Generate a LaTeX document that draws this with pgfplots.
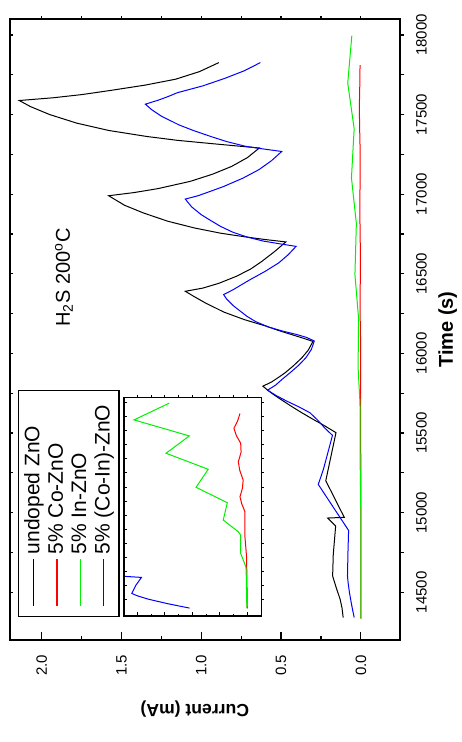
\documentclass[border=0pt]{standalone}
\usepackage{pgfplots}
\usepackage{pgfplotstable}
\pgfplotsset{compat=1.18}
\usepackage{fontspec}
\setmainfont{Liberation Sans}

% time (s) vs. current (mA)
\pgfplotstableread{
t c
14341 0.111
14400 0.118
14456 0.130
14530 0.155
14602 0.177
14738 0.173
14916 0.158
14966 0.208
14970 0.104
15200 0.220
15502 0.156
15550 0.235
15585 0.298
15630 0.375
15673 0.444
15710 0.500
15742 0.548
15770 0.585
15794 0.614
15820 0.560
15850 0.515
15878 0.475
15920 0.425
15972 0.370
16020 0.330
16075 0.300
16095 0.360
16120 0.440
16145 0.520
16170 0.590
16212 0.730
16260 0.860
16320 0.980
16360 1.050
16390 1.100
16410 0.990
16440 0.890
16484 0.780
16530 0.690
16578 0.620
16640 0.540
16700 0.470
16715 0.600
16731 0.720
16755 0.880
16787 1.040
16830 1.210
16881 1.360
16930 1.480
16990 1.580
17010 1.420
17035 1.270
17080 1.070
17125 0.930
17174 0.810
17230 0.710
17290 0.636
17303 0.780
17316 0.920
17338 1.150
17362 1.340
17400 1.580
17446 1.780
17500 1.950
17550 2.070
17588 2.140
17605 1.930
17625 1.750
17651 1.570
17685 1.350
17722 1.160
17770 1.010
17826 0.890
}\undoped

\pgfplotstableread{
t c
14334 0.0000
14900 0.0003
15255 0.0005
15612 0.0017
16058 0.0017
16200 0.0040
16326 0.0053
16480 0.0035
16624 0.0030
16800 0.0055
16951 0.0065
17120 0.0045
17280 0.0048
17420 0.0080
17548 0.0097
17680 0.0070
17810 0.0053
}\cozno

\pgfplotstableread{
t c
14334 0.0003
15000 0.0008
15077 0.0010
15316 0.0048
15643 0.0048
15702 0.0065
15911 0.0175
16220 0.0145
16495 0.0373
16816 0.0284
17102 0.0591
17411 0.0422
17697 0.0824
17995 0.0568
}\inzno

\pgfplotstableread{
t c
14341 0.042
14420 0.058
14500 0.072
14560 0.080
14602 0.084
14750 0.081
14888 0.077
15177 0.267
15271 0.235
15485 0.178
15530 0.225
15580 0.270
15627 0.319
15665 0.390
15700 0.464
15735 0.530
15769 0.585
15800 0.535
15840 0.490
15878 0.444
15925 0.390
15972 0.345
16025 0.310
16078 0.292
16100 0.340
16118 0.400
16140 0.490
16166 0.580
16200 0.660
16233 0.714
16300 0.800
16340 0.840
16369 0.860
16400 0.800
16430 0.750
16463 0.694
16515 0.600
16568 0.515
16620 0.455
16672 0.406
16690 0.520
16705 0.610
16730 0.710
16760 0.800
16798 0.880
16840 0.950
16871 1.000
16920 1.060
16969 1.100
16990 1.020
17015 0.950
17048 0.860
17100 0.740
17153 0.640
17210 0.560
17268 0.496
17285 0.620
17300 0.720
17330 0.840
17362 0.940
17400 1.050
17435 1.140
17490 1.250
17530 1.310
17565 1.350
17590 1.270
17612 1.210
17637 1.150
17680 0.990
17728 0.850
17775 0.730
17826 0.630
}\coinzno

\definecolor{cgreen}{RGB}{0,240,0}

\pgfplotsset{
  mainbox/.style={
    at={(51pt,30.5pt)}, anchor=south west,
    scale only axis, width=310.5pt, height=195pt,
    xmin=14200, xmax=18100, ymin=-0.245, ymax=2.198,
    xtick={14500,15000,...,18000}, minor x tick num=1,
    ytick={0,0.5,1,1.5,2}, minor y tick num=1,
    scaled x ticks=false, scaled y ticks=false,
    axis line style={line width=0.8pt},
    every tick/.style={black, line width=0.6pt},
    xticklabels={}, yticklabels={},
  },
  insetbox/.style={
    at={(63pt,99.65pt)}, anchor=south west,
    scale only axis, width=109.35pt, height=68.85pt,
    xmin=14200, xmax=18100, ymin=-0.0105, ymax=0.0897,
    xtick={14500,15000,...,18000}, minor x tick num=1,
    ytick={0,0.02,0.04,0.06,0.08}, minor y tick num=1,
    scaled x ticks=false, scaled y ticks=false,
    axis line style={line width=0.6pt},
    every tick/.style={black, line width=0.5pt},
    xticklabels={}, yticklabels={},
  },
  curve/.style={line width=0.5pt},
}

\begin{document}
\begin{tikzpicture}[rotate=90, transform shape]
% main panel: data, bottom ticks with labels, legend
\begin{axis}[mainbox,
  tick align=outside, xtick pos=left, ytick=\empty,
  major tick length=2pt, minor tick length=2pt,
  xticklabels={14500,15000,15500,16000,16500,17000,17500,18000},
  xticklabel style={font=\fontsize{7.5}{9}\selectfont, yshift=-2.5pt},
  xlabel={\bfseries Time (s)},
  xlabel style={font=\fontsize{10}{12}\selectfont, at={(axis description cs:0.5,-0.08)}, anchor=north},
  legend style={at={(axis description cs:0.037,0.9795)}, anchor=north west,
    draw=black, line width=0.6pt, font=\fontsize{10.5}{12}\selectfont,
    inner xsep=5pt, inner ysep=2.5pt, row sep=1.6pt,
    nodes={inner ysep=0pt, text height=7.9pt, text depth=2.2pt}},
  legend cell align=left,
  legend image code/.code={\draw[#1, line width=0.6pt] (0pt,0pt) -- (23.5pt,0pt);},
]
\addplot[curve, black] table {\undoped};
\addlegendentry{undoped ZnO}
\addplot[curve, red] table {\cozno};
\addlegendentry{5\% Co-ZnO}
\addplot[curve, cgreen] table {\inzno};
\addlegendentry{5\% In-ZnO}
\addplot[curve, blue] table {\coinzno};
\addlegendentry{5\% (Co-In)-ZnO}
\end{axis}
% main panel: left ticks with labels
\begin{axis}[mainbox,
  tick align=inside, ytick pos=left, xtick=\empty,
  major tick length=4pt, minor tick length=2pt,
  yticklabels={0.0,0.5,1.0,1.5,2.0},
  yticklabel style={font=\fontsize{7.5}{9}\selectfont, xshift=-4pt},
  ylabel={\bfseries Current (mA)},
  ylabel style={font=\fontsize{8.8}{11}\selectfont, at={(axis description cs:-0.087,0.526)}, anchor=south},
]
\end{axis}
% main panel: top and right ticks
\begin{axis}[mainbox, tick align=inside, xtick pos=right, ytick=\empty,
  major tick length=1.5pt, minor tick length=1.5pt]
\end{axis}
\begin{axis}[mainbox, tick align=outside, ytick pos=right, xtick=\empty,
  major tick length=1.5pt, minor tick length=1.5pt]
\end{axis}

% inset: low-current region
\begin{axis}[insetbox, tick align=outside, xtick pos=left, ytick=\empty,
  major tick length=1.2pt, minor tick length=1.2pt]
\addplot[curve, red] table {\cozno};
\addplot[curve, cgreen] table {\inzno};
\addplot[curve, blue] table {\coinzno};
\end{axis}
\begin{axis}[insetbox, tick align=inside, ytick pos=left, xtick=\empty,
  major tick length=2.2pt, minor tick length=1.1pt]
\end{axis}
\begin{axis}[insetbox, tick align=inside, xtick pos=right, ytick=\empty,
  major tick length=1.3pt, minor tick length=1.3pt]
\end{axis}
\begin{axis}[insetbox, tick align=outside, ytick pos=right, xtick=\empty,
  major tick length=1.3pt, minor tick length=1.3pt]
\end{axis}

\node[anchor=base west, font=\fontsize{10}{12}\selectfont, inner sep=0pt]
  at (207.5pt,195.5pt) {H\textsubscript{2}S 200\textsuperscript{o}C};

\pgfresetboundingbox
\path[use as bounding box] (0pt,0pt) rectangle (371pt,230.5pt);
\end{tikzpicture}
\end{document}
